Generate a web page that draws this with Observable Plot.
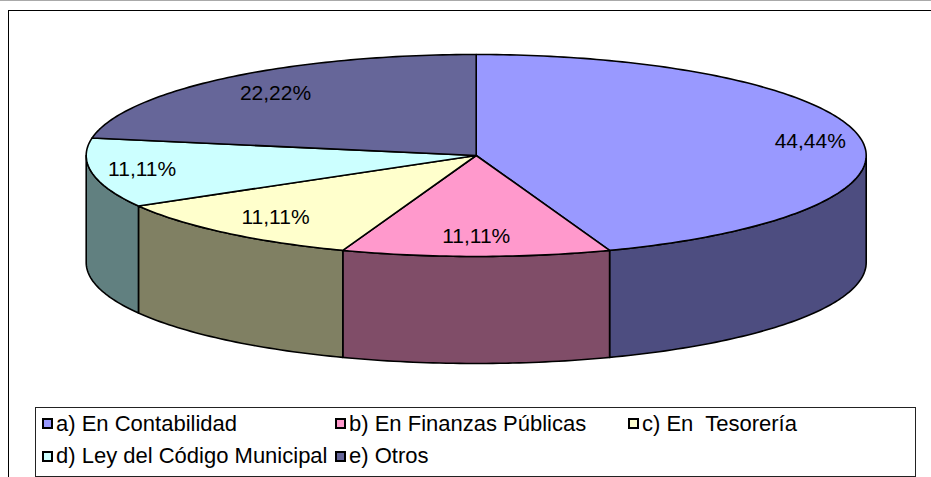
<!DOCTYPE html>
<html><head><meta charset="utf-8">
<script src="https://cdn.jsdelivr.net/npm/d3@7"></script>
<script src="https://cdn.jsdelivr.net/npm/@observablehq/plot@0.6"></script>
<style>
body{margin:0;background:#fff;font-family:"Liberation Sans",Arial,sans-serif;}
#wrap{position:relative;width:931px;height:477px;overflow:hidden;background:#fff;}
#topline{position:absolute;left:0;top:0;width:931px;height:1px;background:#aaa;}
#frame{position:absolute;left:8px;top:10px;width:1000px;height:1000px;border:1px solid #000;}
#chart{position:absolute;left:0;top:0;}
#legend{position:absolute;left:35px;top:407px;width:879px;height:68px;border:1px solid #222;background:#fff;}
.sw{position:absolute;width:11px;height:11px;box-sizing:border-box;border:2px solid #000;}
.tx{position:absolute;font-size:22px;line-height:22px;white-space:pre;color:#000;}
</style></head>
<body>
<div id="wrap">
  <div id="topline"></div>
  <div id="frame"></div>
  <div id="chart"></div>
  <div id="legend"></div>
</div>
<script>
const categories = ["a) En Contabilidad", "b) En Finanzas Públicas", "c) En  Tesorería", "d) Ley del Código Municipal", "e) Otros"];
const values = [44.44, 11.11, 11.11, 11.11, 22.22];
const labels = ["44,44%", "11,11%", "11,11%", "11,11%", "22,22%"];
const topColors = ["#9999FF", "#FF99CC", "#FFFFCC", "#CCFFFF", "#666699"];
const sideColors = ["#4D4D80", "#804D68", "#808063", "#618080", "#333366"];

// geometry derived from the values (angles clockwise from 12 o'clock)
const D = 1.06; // pie thickness, in units of the vertical radius
const total = d3.sum(values);
let acc = 0;
const slices = values.map((v, i) => {
  const a0 = acc / total * 2 * Math.PI; acc += v;
  const a1 = acc / total * 2 * Math.PI;
  return {i, a0, a1};
});
function arcPts(a0, a1, off) {
  const n = Math.max(2, Math.ceil((a1 - a0) / (Math.PI / 180)));
  return d3.range(n + 1).map(k => {
    const t = a0 + (a1 - a0) * k / n;
    return {x: Math.sin(t), y: Math.cos(t) - off};
  });
}
const sidePts = [];
slices.forEach(s => {
  const b0 = Math.max(s.a0, Math.PI / 2), b1 = Math.min(s.a1, 3 * Math.PI / 2);
  if (b1 <= b0) return;
  const pts = [...arcPts(b0, b1, 0), ...arcPts(b0, b1, D).reverse()];
  pts.forEach(p => sidePts.push({...p, id: s.i, fill: sideColors[s.i]}));
});
const topPts = [];
slices.forEach(s => {
  [{x: 0, y: 0}, ...arcPts(s.a0, s.a1, 0)].forEach(p => topPts.push({...p, id: s.i, fill: topColors[s.i]}));
});
const labelData = slices.map(s => {
  const m = (s.a0 + s.a1) / 2, sx = Math.sin(m);
  return {x: Math.sign(sx) * Math.max(0, Math.abs(sx) - 50 / 390), y: Math.cos(m) * 0.8, text: labels[s.i]};
});

const chart = Plot.plot({
  width: 931, height: 400,
  marginLeft: 85.7, marginRight: 65.3, marginTop: 54, marginBottom: 37,
  x: {domain: [-1, 1], axis: null},
  y: {domain: [-1 - D, 1], axis: null},
  color: {type: "identity"},
  style: {background: "transparent", fontFamily: '"Liberation Sans", Arial, sans-serif'},
  marks: [
    Plot.line(sidePts, {x: "x", y: "y", z: "id", fill: "fill", stroke: "#000", strokeWidth: 1.6, curve: "linear-closed", strokeLinejoin: "round"}),
    Plot.line(topPts, {x: "x", y: "y", z: "id", fill: "fill", stroke: "#000", strokeWidth: 1.6, curve: "linear-closed", strokeLinejoin: "round"}),
    Plot.text(labelData, {x: "x", y: "y", text: "text", fontSize: 21, fill: "#000"})
  ]
});
document.getElementById("chart").appendChild(chart);

// legend
const legend = document.getElementById("legend");
const colX = [6, 299, 592];
categories.forEach((c, i) => {
  const col = i < 3 ? i : i - 3, row = i < 3 ? 0 : 1;
  const sw = document.createElement("div");
  sw.className = "sw";
  sw.style.left = colX[col] + "px";
  sw.style.top = (10 + row * 33) + "px";
  sw.style.background = topColors[i];
  legend.appendChild(sw);
  const tx = document.createElement("div");
  tx.className = "tx";
  tx.textContent = c;
  tx.style.left = (colX[col] + 14) + "px";
  tx.style.top = (5 + row * 32) + "px";
  legend.appendChild(tx);
});
</script>
</body></html>
